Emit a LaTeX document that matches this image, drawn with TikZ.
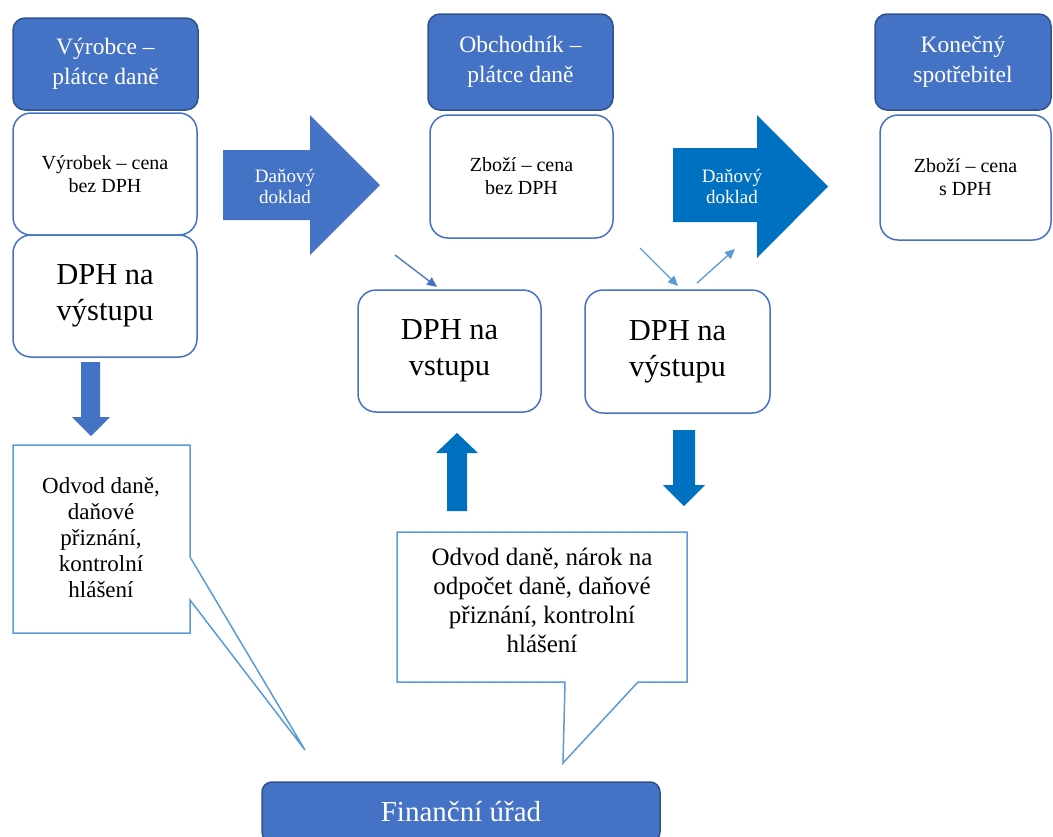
\documentclass[tikz,border=0pt]{standalone}
\usepackage{fontspec}
\setmainfont{Liberation Serif}
\usetikzlibrary{arrows.meta}
\definecolor{hdrfill}{HTML}{4472C4}
\definecolor{hdrborder}{HTML}{2F528F}
\definecolor{boxborder}{HTML}{4472C4}
\definecolor{arrowA}{HTML}{4472C4}
\definecolor{arrowB}{HTML}{0070C0}
\definecolor{callborder}{HTML}{5B9BD5}
\begin{document}
\begin{tikzpicture}[x=1pt,y=-1pt,
  header/.style={draw=hdrborder, fill=hdrfill, line width=1.5pt, rounded corners=12pt,
    text=white, align=center, inner sep=0pt, font=\fontsize{23.5}{30}\selectfont},
  whitebox/.style={draw=boxborder, fill=white, line width=1.5pt, rounded corners=18pt,
    align=center, inner sep=0pt},
  smalltext/.style={font=\fontsize{20}{23}\selectfont},
  bigtext/.style={font=\fontsize{30.5}{36}\selectfont},
  arrowtext/.style={text=white, align=center, inner sep=0pt, font=\fontsize{19}{21}\selectfont},
  callout/.style={draw=callborder, fill=white, line width=1.5pt},
  calltext/.style={align=center, inner sep=0pt},
  thinarrow/.style={line width=1.3pt, -{Triangle[length=10pt,width=9pt]}},
]
\useasboundingbox (0,0) rectangle (1053,836);
\clip (0,0) rectangle (1053,836);

% left column
\node[header, minimum width=185, minimum height=92] (vyr) at (105.5,64) {Výrobce –\\plátce daně};
\node[whitebox, smalltext, minimum width=184, minimum height=122] (vyrobek) at (105,174) {Výrobek – cena\\bez DPH};
\node[whitebox, bigtext, minimum width=184, minimum height=122] (dphvyst1) at (105,296) {DPH na\\výstupu};

% middle column
\node[header, minimum width=185, minimum height=96] (obch) at (520.5,62) {Obchodník –\\plátce daně};
\node[whitebox, smalltext, minimum width=183, minimum height=123] (zbozi1) at (521.5,176.5) {Zboží – cena\\bez DPH};
\node[whitebox, bigtext, minimum width=183, minimum height=122] (dphvst) at (449.5,351) {DPH na\\vstupu};
\node[whitebox, bigtext, minimum width=185, minimum height=123] (dphvyst2) at (677.5,351.5) {DPH na\\výstupu};

% right column
\node[header, minimum width=176, minimum height=96] (kon) at (963,62) {Konečný\\spotřebitel};
\node[whitebox, smalltext, minimum width=171, minimum height=125] (zbozi2) at (965.5,177.5) {Zboží – cena\\s DPH};

% big block arrows
\fill[arrowA] (223,150) -- (310,150) -- (310,115) -- (380,185) -- (310,255) -- (310,220) -- (223,220) -- cycle;
\node[arrowtext] (dok1) at (285,186) {Daňový\\doklad};
\fill[arrowB] (673,148) -- (757,148) -- (757,115) -- (828,186.5) -- (757,258) -- (757,222) -- (673,222) -- cycle;
\node[arrowtext] (dok2) at (732,186) {Daňový\\doklad};

% small thin arrows
\coordinate (s1) at (395,255);
\coordinate (s2) at (640,248);
\coordinate (e3) at (735,249);
\coordinate (t1) at (437,287);
\coordinate (t2) at (678,286);
\coordinate (s3) at (697,283);
\draw[thinarrow, draw=arrowA, fill=arrowA] (s1) -- (t1);
\draw[thinarrow, draw=callborder, fill=callborder] (s2) -- (t2);
\draw[thinarrow, draw=callborder, fill=callborder] (s3) -- (e3);

% vertical block arrows
\fill[arrowA] (81,362) -- (100,362) -- (100,417) -- (110,417) -- (91,436) -- (72,417) -- (81,417) -- cycle;
\fill[arrowB] (447,511) -- (447,453) -- (436,453) -- (457,433) -- (478,453) -- (467,453) -- (467,511) -- cycle;
\fill[arrowB] (673,430) -- (695,430) -- (695,485) -- (705,485) -- (684,506) -- (663,485) -- (673,485) -- cycle;

% callouts
\draw[callout] (13,445) -- (190,445) -- (190,557) -- (305,750) -- (190,600) -- (190,633) -- (13,633) -- cycle;
\node[calltext, font=\fontsize{23}{26}\selectfont] (call1) at (101,538) {Odvod daně,\\daňové\\přiznání,\\kontrolní\\hlášení};
\draw[callout] (397,532) -- (687,532) -- (687,682) -- (638,682) -- (563,763) -- (565,682) -- (397,682) -- cycle;
\node[calltext, font=\fontsize{25}{29}\selectfont] (call2) at (542,600) {Odvod daně, nárok na\\odpočet daně, daňové\\přiznání, kontrolní\\hlášení};

% financni urad
\node[header, rounded corners=10pt, minimum width=398, minimum height=60, font=\fontsize{29}{32}\selectfont] (fu) at (461,812) {Finanční úřad};
\end{tikzpicture}
\end{document}
